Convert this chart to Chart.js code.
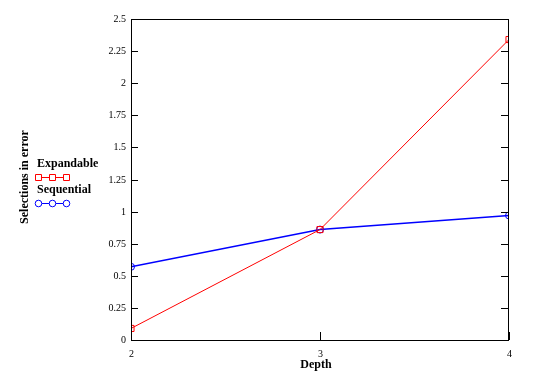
<!DOCTYPE html>
<html>
<head>
<meta charset="utf-8">
<script src="https://cdn.jsdelivr.net/npm/chart.js@4/dist/chart.umd.min.js"></script>
<style>
html,body{margin:0;padding:0;background:#fff;}
#wrap{width:536px;height:373px;position:relative;}
</style>
</head>
<body>
<div id="wrap"><canvas id="c" width="536" height="373"></canvas></div>
<script>
const depths = [2, 3, 4];
const expandable = [0.09, 0.86, 2.34];
const sequential = [0.57, 0.86, 0.97];
const seriesNames = ['Expandable', 'Sequential'];
const yTickValues = [0, 0.25, 0.5, 0.75, 1, 1.25, 1.5, 1.75, 2, 2.25, 2.5];
const yTickLabels = ['0', '0.25', '0.5', '0.75', '1', '1.25', '1.5', '1.75', '2', '2.25', '2.5'];
const xTickLabels = ['2', '3', '4'];
const xTitle = 'Depth';
const yTitle = 'Selections in error';

const SERIF = '"Liberation Serif", "Times New Roman", serif';

const decor = {
  id: 'decor',
  afterDraw(chart) {
    const ctx = chart.ctx;
    const a = chart.chartArea;
    const xs = chart.scales.x, ys = chart.scales.y;
    ctx.save();
    ctx.strokeStyle = '#000';
    ctx.lineWidth = 1;
    ctx.strokeRect(Math.round(a.left) + 0.5, Math.round(a.top) + 0.5, Math.round(a.right - a.left) - 1, Math.round(a.bottom - a.top));
    ctx.fillStyle = '#000';
    ctx.font = '10px ' + SERIF;
    ctx.textAlign = 'right';
    ctx.textBaseline = 'middle';
    yTickValues.forEach((v, i) => {
      const y = Math.round(ys.getPixelForValue(v)) + 0.5;
      ctx.beginPath();
      ctx.moveTo(a.left, y); ctx.lineTo(a.left + 7, y);
      ctx.moveTo(a.right, y); ctx.lineTo(a.right - 8, y);
      ctx.stroke();
      ctx.fillText(yTickLabels[i], a.left - 5, y);
    });
    ctx.textAlign = 'center';
    depths.forEach((v, i) => {
      const x = Math.round(xs.getPixelForValue(v)) + 0.5;
      ctx.beginPath();
      ctx.moveTo(x, a.bottom); ctx.lineTo(x, a.bottom - 8);
      ctx.stroke();
      ctx.fillText(xTickLabels[i], x, a.bottom + 14);
    });
    ctx.font = 'bold 12px ' + SERIF;
    ctx.fillText(xTitle, 316, 365);
    ctx.save();
    ctx.translate(25, 177);
    ctx.rotate(-Math.PI / 2);
    ctx.fillText(yTitle, 0, 0);
    ctx.restore();
    const ds = chart.data.datasets;
    const legendY = [164, 190];
    ds.forEach((d, i) => {
      ctx.font = 'bold 12px ' + SERIF;
      ctx.textAlign = 'left';
      ctx.fillStyle = '#000';
      ctx.fillText(d.label, 37, legendY[i]);
      const ly = legendY[i] + 13.5;
      ctx.strokeStyle = d.borderColor;
      ctx.lineWidth = 1;
      ctx.beginPath();
      ctx.moveTo(36, ly); ctx.lineTo(69, ly);
      ctx.stroke();
      [38.5, 52.5, 66.5].forEach(px => {
        ctx.fillStyle = '#fff';
        ctx.beginPath();
        if (d.pointStyle === 'rect') {
          ctx.rect(px - 3, ly - 3, 6, 6);
        } else {
          ctx.arc(px, ly, 3.3, 0, Math.PI * 2);
        }
        ctx.fill();
        ctx.stroke();
      });
    });
    ctx.restore();
  }
};

new Chart(document.getElementById('c'), {
  type: 'line',
  data: {
    datasets: [
      {
        label: seriesNames[0],
        data: depths.map((d, i) => ({x: d, y: expandable[i]})),
        borderColor: '#ff0000',
        backgroundColor: 'rgba(0,0,0,0)',
        borderWidth: 1,
        pointStyle: 'rect',
        pointRadius: 4.3,
        pointBorderWidth: 1,
        pointBackgroundColor: 'rgba(0,0,0,0)',
        clip: 0
      },
      {
        label: seriesNames[1],
        data: depths.map((d, i) => ({x: d, y: sequential[i]})),
        borderColor: '#0000ff',
        backgroundColor: 'rgba(0,0,0,0)',
        borderWidth: 1.5,
        pointStyle: 'circle',
        pointRadius: 3.5,
        pointBorderWidth: 1,
        pointBackgroundColor: 'rgba(0,0,0,0)',
        clip: 0
      }
    ]
  },
  options: {
    responsive: false,
    animation: false,
    devicePixelRatio: 1,
    layout: {padding: {left: 131, top: 19, right: 27, bottom: 33}},
    plugins: {legend: {display: false}, tooltip: {enabled: false}},
    scales: {
      x: {
        type: 'linear', min: 2, max: 4,
        ticks: {stepSize: 1, display: false},
        grid: {display: false, drawTicks: false},
        border: {display: false}
      },
      y: {
        type: 'linear', min: 0, max: 2.5,
        ticks: {stepSize: 0.25, display: false},
        grid: {display: false, drawTicks: false},
        border: {display: false}
      }
    }
  },
  plugins: [decor]
});
</script>
</body>
</html>
